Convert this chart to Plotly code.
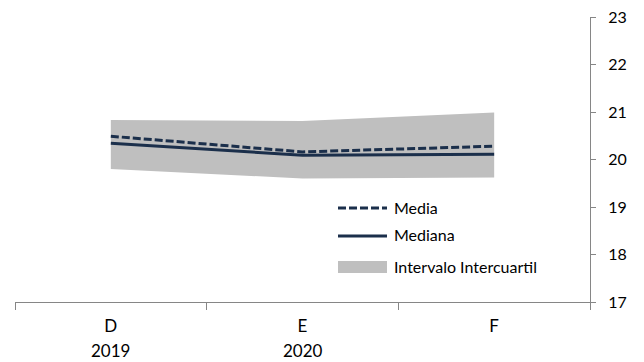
import plotly.graph_objects as go

categories = ["D", "E", "F"]
years = ["2019", "2020", ""]
media = [20.49, 20.16, 20.28]
mediana = [20.34, 20.09, 20.11]
q1 = [19.80, 19.60, 19.62]
q3 = [20.83, 20.81, 20.99]
y_ticks = [17, 18, 19, 20, 21, 22, 23]
legend_labels = ["Media", "Mediana", "Intervalo Intercuartil"]

navy = "#1B2F4B"
band = "#BFBFBF"
axis_col = "#868686"
font_family = "Lato, 'Open Sans', sans-serif"

# page geometry (browser body has an 8px margin)
W, H, OFF = 636, 354, 8
L, R, T, B = 7, 54, 9, 60
PW, PH = W - L - R, H - T - B


def px(xp):
    return (xp - OFF - L) / PW


def py(yp):
    return (H - B - (yp - OFF)) / PH


fig = go.Figure()
fig.add_trace(go.Scatter(x=categories, y=q1, mode="lines", line=dict(width=0, color=band),
                         showlegend=False, hoverinfo="skip"))
fig.add_trace(go.Scatter(x=categories, y=q3, mode="lines", line=dict(width=0, color=band),
                         fill="tonexty", fillcolor=band, name=legend_labels[2], showlegend=False))
fig.add_trace(go.Scatter(x=categories, y=mediana, mode="lines", line=dict(width=3, color=navy),
                         name=legend_labels[1], showlegend=False))
fig.add_trace(go.Scatter(x=categories, y=media, mode="lines",
                         line=dict(width=3, color=navy, dash="8px,3px"),
                         name=legend_labels[0], showlegend=False))

shapes = [
    dict(type="line", xref="paper", yref="paper", x0=px(338), x1=px(387), y0=py(208), y1=py(208),
         line=dict(color=navy, width=3, dash="8px,3px")),
    dict(type="line", xref="paper", yref="paper", x0=px(338), x1=px(387), y0=py(236), y1=py(236),
         line=dict(color=navy, width=3)),
    dict(type="rect", xref="paper", yref="paper", x0=px(338), x1=px(387), y0=py(261), y1=py(273),
         line=dict(width=0), fillcolor=band),
]
annotations = [
    dict(xref="paper", yref="paper", x=px(392), y=py(yc), text=t, showarrow=False,
         xanchor="left", yanchor="middle", font=dict(size=16, color="#000000"))
    for t, yc in zip(legend_labels, [207, 235, 266])
]
annotations += [
    dict(xref="x", yref="paper", x=c, y=py(350), text=yr, showarrow=False,
         xanchor="center", yanchor="middle", font=dict(size=17, color="#000000"))
    for c, yr in zip(categories, years) if yr
]

fig.update_layout(
    width=W, height=H,
    margin=dict(l=L, r=R, t=T, b=B, autoexpand=False),
    paper_bgcolor="white", plot_bgcolor="white",
    font=dict(family=font_family, size=16, color="#000000"),
    showlegend=False,
    shapes=shapes,
    annotations=annotations,
    xaxis=dict(type="category", range=[-0.5, 2.5], showgrid=False,
               showline=True, linecolor=axis_col, linewidth=1,
               ticks="outside", tickson="boundaries", ticklen=7, tickcolor=axis_col,
               ticklabelstandoff=9,
               tickfont=dict(size=17), zeroline=False, automargin=False),
    yaxis=dict(side="right", range=[17, 23], tickvals=y_ticks, showgrid=False,
               showline=True, linecolor=axis_col, linewidth=1,
               ticks="outside", ticklen=5, tickcolor=axis_col,
               ticklabeloverflow="allow", ticklabelstandoff=9,
               tickfont=dict(size=16), zeroline=False, automargin=False),
)

fig.write_html("out.html")
